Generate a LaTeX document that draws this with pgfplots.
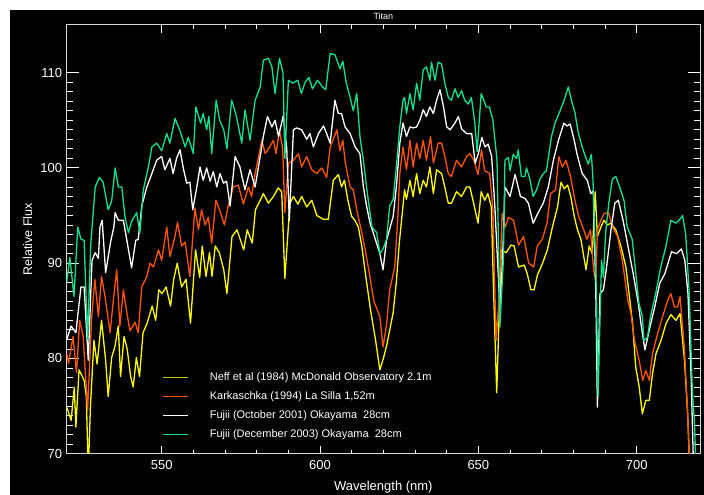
\documentclass[border=0pt]{standalone}
\usepackage{fontspec}
\setmainfont{Liberation Sans}
\usepackage{pgfplots}
\pgfplotsset{compat=1.18}
\definecolor{neffy}{RGB}{255,255,0}
\definecolor{neffleg}{RGB}{200,200,0}
\definecolor{org}{RGB}{255,85,0}
\definecolor{grn}{RGB}{20,225,140}
\definecolor{frm}{RGB}{215,215,215}
\pgfplotsset{legend image code/.code={\draw[#1] (0pt,0pt) -- (25pt,0pt);}}
\begin{document}
\begin{tikzpicture}[x=1pt,y=1pt]
\path[use as bounding box] (0,0) rectangle (704,495);
\fill[white] (0,0) rectangle (704,495);
\fill[black] (10,0) rectangle (704,485);
\begin{axis}[
  at={(66.7pt,41.3pt)}, anchor=south west,
  scale only axis, width=633.3pt, height=428.7pt,
  xmin=520, xmax=720, ymin=70, ymax=115,
  clip mode=individual,
  xtick={550,600,650,700}, minor x tick num=4,
  ytick={70,80,90,100,110}, minor y tick num=9,
  axis line style={frm, line width=1pt},
  tick style={white, line width=0.8pt},
  major tick length=12pt, minor tick length=6pt,
  xtick style={/pgfplots/major tick length=8pt,/pgfplots/minor tick length=4pt},
  /pgf/number format/assume math mode=true,
  ticklabel style={white, font=\fontsize{13}{15}\selectfont},
  xticklabel style={yshift=-3pt},
  yticklabel style={xshift=-1pt},
  xlabel={Wavelength (nm)},
  xlabel style={text=white, font=\fontsize{13}{15}\selectfont, at={(axis description cs:0.5,-0.078)}, anchor=center},
  ylabel={Relative Flux},
  ylabel style={text=white, font=\fontsize{12.5}{15}\selectfont, at={(axis description cs:-0.0615,0.5)}, anchor=center},
  legend cell align=left,
  legend style={at={(axis description cs:0.1505,0.2349)}, anchor=north west,
    draw=none, fill=none, font=\fontsize{11}{13}\selectfont,
    inner sep=0pt, row sep=8.5pt, column sep=21pt,
    nodes={inner sep=0pt, text height=8pt, text depth=2.5pt}},
  every axis plot/.append style={line width=1.3pt, line join=round},
]
\addlegendimage{empty legend}
\addlegendentry{}
\addlegendimage{color=neffleg, line width=1.6pt}
\addlegendentry{\textcolor{white}{Neff et al (1984) McDonald Observatory 2.1m}}
\addlegendimage{draw=org, line width=1.3pt}
\addlegendentry{\textcolor{white}{Karkaschka (1994) La Silla 1,52m}}
\addlegendimage{draw=white, line width=1.3pt}
\addlegendentry{\textcolor{white}{Fujii (October 2001) Okayama\ \ 28cm}}
\addlegendimage{draw=grn, line width=1.3pt}
\addlegendentry{\textcolor{white}{Fujii (December 2003) Okayama\ \ 28cm}}
\addplot[draw=neffy, forget plot] coordinates {
(520,74.9) (521.4,73.5) (522.4,77) (522.9,72.8) (523.9,78.8) (525.5,77.7) (526.2,76) (526.8,68) (527.5,75) (528.6,81.9) (529.6,79.4) (531,84) (532.3,79.8) (533.1,76) (534.2,80.1) (535.2,81.2) (536.3,83.4) (537,78.1) (538.1,82.3) (539.1,81) (540.2,78.1) (541,77) (542,80.1) (543,78.1) (544.1,82.7) (545.4,83.7) (547,85.5) (548.1,84) (549.1,87.2) (550.1,86.8) (551.4,87.5) (552.8,85.5) (553.8,88.3) (554.9,90) (556.3,87.5) (557.7,88.3) (559.1,83.7) (560.7,91.4) (562,88.5) (562.8,91.8) (564,88.6) (565.1,91.1) (565.9,88.6) (566.9,91.8) (568.2,91.1) (569.6,89.3) (570.6,86.8) (572.2,92.8) (573.8,93.5) (575.9,91.4) (577,93.5) (578.6,92.1) (579.6,95.6) (581.1,96.6) (582.1,97.3) (583.7,96.3) (585.3,97) (586.8,97.9) (587.9,97.5) (588.9,88.4) (590.5,96.3) (591.6,97) (593,96.2) (594.2,97) (595.8,95.9) (597.4,96.6) (599,95) (601.1,94.6) (602.6,94.6) (604.2,98.7) (605.8,99.3) (606.8,98) (607.7,98.7) (608.8,96.6) (610,94.9) (611,94.5) (612.1,93.8) (613.2,91.8) (614.5,88.5) (616,85) (617.5,82) (618.9,78.8) (620,80) (621,81.3) (623.1,84.8) (624.1,88) (625,92) (626.7,97.7) (627.3,96.7) (628.4,98.7) (629.4,97) (630.5,99.4) (631.5,97.3) (632.6,98.7) (633.6,98) (634.7,100.1) (635.8,97.3) (636.8,99.8) (638.4,99.4) (639.4,98) (640.5,96.3) (641.5,96.3) (643.1,97.5) (644.7,97) (646.3,98) (647.3,98) (648.3,96.6) (649.9,94.2) (650.9,97.5) (652,96.6) (653,97.3) (654.1,95.9) (654.8,87.2) (655.8,76.4) (657.2,91.4) (658.8,91.1) (660.3,91.9) (661.3,91.8) (662.7,89.6) (664.5,89.8) (665.5,88.8) (666.6,87.2) (667.6,87.2) (668.7,88.8) (670.3,90) (671.8,91.4) (673.4,93.8) (675,95.9) (676.1,98.5) (677.1,97.8) (678.2,98.2) (679.2,97) (680.3,94.9) (681.3,93.5) (682.4,92.5) (684,89.3) (685,91.8) (686,91) (686.9,97.5) (687.6,92.8) (688.7,93.8) (689.7,94.5) (690.8,94) (691.8,94.2) (693.4,93.5) (695,91.8) (696.6,89.6) (697.6,86.8) (698.7,83.7) (699.7,79.1) (700.8,77) (701.8,74.2) (702.9,75.6) (704,75.6) (705,78.4) (706.1,80.5) (707.7,81.9) (709.3,83.7) (710.8,84.6) (712.4,84) (713.7,84.7) (715.1,79.8) (716.1,74.2) (716.8,68)
};
\addplot[draw=org, forget plot] coordinates {
(520,80.5) (520.6,79.5) (522,82.3) (523.1,78.5) (524.1,84) (525.2,82.3) (526.6,74.6) (527.9,84.4) (528.9,88.3) (530,84.4) (531,88.6) (532.1,86.5) (533.7,82.7) (534.7,86) (535.8,89.3) (536.8,83.4) (537.9,87.2) (539,84.8) (540,82.9) (541.6,83.8) (542.6,82.7) (543.7,87.5) (545.3,88.6) (546.3,90) (547.4,89.6) (549,91.4) (550,90.3) (551.6,93.8) (552.6,90.7) (554.2,92.8) (555,94.3) (556.3,91.8) (557.4,92.2) (558.9,88.6) (560.5,95.8) (561.6,93.5) (562.6,95.6) (563.7,94) (564.7,94.8) (565.8,92.1) (567.1,96.6) (568.4,95.5) (569.8,94) (571,96) (572.6,98) (574.2,98.2) (575.8,96.2) (577.4,98) (578.4,97) (579.5,99.4) (580.5,101) (581.6,102.9) (582.7,101.5) (583.7,102) (585.3,102.9) (586.1,101.5) (587.2,104) (588.2,102) (588.9,95.3) (590,100.5) (591.6,100.8) (593.2,101.5) (594.2,100.1) (595.8,101.2) (597.4,99.8) (599,99.4) (600.5,100) (602.1,99) (603.2,102.2) (604.2,103) (605.3,104) (606.3,101.8) (607.2,102.9) (608,100.5) (609.5,98) (610.5,97.7) (611.6,95.6) (613.2,93.2) (614.5,91) (615.8,88.5) (617,86) (618.9,84.4) (619.9,81.2) (621,83.5) (622,87.2) (623.6,89.6) (624.6,95) (625.2,99.4) (626.2,102.2) (627.3,99.8) (628.4,102.9) (629.4,100.1) (630.5,102.6) (631.5,101) (632.6,102.9) (633.6,100.8) (634.9,103.3) (635.8,100.5) (637.3,102.6) (638.4,102.6) (639.4,101.2) (640.5,99.4) (641.5,99.1) (643.1,100.8) (644.7,100.1) (646.3,101.2) (647.3,101.5) (648.6,100.8) (649.9,99.3) (651,101.9) (652,99.7) (653.6,99.4) (654.6,95.6) (655.6,81.9) (656.5,86) (657.5,95.2) (658.5,93.8) (659.5,94.8) (661.1,94.5) (662.7,91.9) (664.3,92.8) (665.9,90) (667.5,89.6) (668.6,91.8) (670.2,92.5) (671.7,94.2) (672.8,97.3) (674.4,97.7) (675.4,101.2) (676.5,100.1) (677.7,100.8) (679.1,99.1) (680.5,96.6) (681.7,94.9) (683.3,93.5) (684.3,92.5) (685.4,93.5) (686.4,89.3) (687.1,88) (687.6,93.5) (688.7,94.5) (689.7,95.2) (691.1,95.3) (692.4,93.8) (694,92.8) (695.6,90) (697.2,86.1) (698.2,84.7) (699.3,81.9) (700.8,79.8) (701.9,77.7) (702.9,78.7) (704,77.7) (705,80.5) (706.6,82.6) (708.2,84.4) (709.8,86.1) (710.8,86.8) (711.9,85.4) (712.9,85.4) (713.7,86.5) (715.1,80.9) (716.1,74.2) (716.8,68)
};
\addplot[draw=white, forget plot] coordinates {
(520,82) (521.4,83.4) (522.9,82.7) (524.5,87.5) (525.5,87.5) (526.8,79.8) (528,90.3) (529,91.1) (530,90.5) (530.5,93.8) (531.2,94.5) (532.3,89) (533.9,92.3) (534.9,93.8) (535.3,95.3) (536.3,94.5) (537.9,94.5) (539,92.4) (540.5,89.5) (541.8,92.4) (542.6,92.5) (543.7,96) (545.3,98) (546.9,99.4) (548.4,100.8) (550,101.2) (551,99.8) (552.6,101) (553.6,99.4) (554.7,101) (555.8,101.9) (556.8,100) (557.9,98.4) (558.9,98.5) (559.8,95.6) (561.1,98) (562.1,100.1) (563.1,98.7) (564.2,100) (565.3,98.6) (566.3,99.6) (567.4,98) (568.4,99.4) (569.5,98.4) (570.5,98.6) (571.6,96) (573.2,101.2) (574.7,100.1) (576.3,97.7) (577.9,99.8) (579.5,98) (581.1,101.2) (582.1,103.3) (583.4,105.4) (584.8,104.3) (585.8,105) (586.9,103.3) (588.4,105.5) (589.5,102) (590.3,94.5) (591.6,104) (592.6,104.2) (594.2,104) (595.8,103) (596.8,103.6) (597.9,102.2) (599.5,103.6) (601.1,104.4) (602.1,103.6) (603.2,102.6) (604.7,107.1) (605.8,105.7) (606.8,105.7) (607.9,104.3) (609.5,103.6) (611.1,102.2) (612.6,101.5) (613.7,98) (614.7,96) (615.8,94.2) (616.8,93.2) (618.9,91) (619.9,89.3) (621,92.4) (623.1,94.9) (624.1,98) (625.2,102.6) (626.2,104.7) (627.3,103.3) (628.4,104.3) (629.4,104.2) (630.5,104.3) (631.5,105) (632.6,106.1) (633.6,105.4) (634.7,106.4) (635.8,105.7) (636.8,107.1) (637.9,108.2) (639,106.4) (640,104.3) (641.1,104) (642.6,104.7) (643.7,105.4) (644.7,104.1) (646.3,103.6) (647.9,103.6) (649,100.5) (650,101.5) (651.1,103.2) (652.1,102.2) (653.1,102.5) (654.2,101.2) (655.2,96) (656.8,85.4) (657.6,90) (658.4,98) (660,97) (661.6,99.3) (663.3,97) (664.7,96.8) (665.8,96.3) (667.3,94.2) (668.9,95.3) (670.5,96.3) (672.1,98) (673.7,100.8) (675.3,102.9) (677,104.7) (678,104.4) (679,104.6) (680.2,103) (681.2,101.4) (682.8,99.4) (684.4,98.7) (685.5,97.3) (686.3,97.6) (687.1,86.8) (687.6,74.9) (688.4,86.8) (689.5,87.2) (690.5,89.6) (692,93.8) (693.1,96.3) (694.2,96.6) (695.7,94.5) (697.3,91.7) (698.9,88.9) (700.5,85.8) (701.5,83.3) (702.6,80.9) (704.2,83.3) (705.7,85.4) (707.3,87.9) (708.9,88.9) (711,91.2) (712.6,91) (714.1,91.5) (715.2,90.3) (716.2,86.8) (717.2,78) (718,68)
};
\addplot[draw=grn, forget plot] coordinates {
(520,88) (521,90.6) (522.3,86.5) (523.5,93.8) (524.5,92.5) (525.5,92.4) (526.6,82) (527.6,92) (529,98) (530.3,99) (531.5,98.5) (533.1,95.6) (534.2,96.5) (535.3,100) (536.3,98) (537.4,98) (538.4,94.9) (539.5,93.2) (540.5,94.4) (542.1,95.3) (543.1,93.2) (544.2,97.7) (545.8,100.1) (546.9,102.2) (548.4,102.6) (550,101.8) (551.6,103.6) (552.6,102.6) (554.2,105.2) (555.8,103.9) (557.4,102.2) (558.4,103.2) (560,101.5) (560.8,106.4) (562.3,104.7) (563.1,105.7) (564.2,104) (564.9,105.4) (565.8,101.5) (567.2,107.1) (568.3,105) (569.6,104) (570.6,102) (572.1,107.1) (573.4,105.7) (575.3,102.6) (576.3,106.1) (577.9,102.9) (579.5,107.1) (581.1,108.5) (582.1,111.3) (583.7,111.5) (584.8,110.6) (585.8,107.8) (587.2,111.5) (588.3,110) (588.9,101) (590,109.2) (591.4,108.9) (593,109.2) (594.1,107.8) (595.3,109) (596.5,109.5) (597.6,108.3) (599.2,109.2) (600.8,108.5) (601.8,108.2) (603.2,112) (604.7,111.9) (606.3,110.4) (607.2,111.2) (608.3,108.9) (609.5,107.4) (610.5,106) (611.6,107.8) (612.6,103.3) (613.7,100.8) (614.8,97.7) (616.4,93.8) (617.9,93.2) (618.9,91) (619.9,91.5) (621,92.5) (622,96) (623.1,96.7) (624.1,100.1) (625.2,104.3) (626.2,107.1) (626.7,107.4) (627.3,105.7) (628.4,107.8) (629.4,106.1) (630.5,108.9) (631.5,107.1) (632.6,110.3) (633.6,110.6) (634.7,109.2) (635.2,111.1) (636.3,109.2) (637.3,111.1) (638.4,110.9) (639.4,108.9) (640.5,107.4) (641.5,107.1) (642.6,108.3) (643.6,107.4) (644.7,108.1) (645.7,107.1) (646.8,106.7) (647.8,107.4) (648.9,104.7) (649.6,101.7) (650.9,107.8) (652.5,106.4) (653.5,106.4) (654.6,105) (655.9,100.8) (656.8,83.3) (657.9,90.3) (658.4,100.8) (659.5,101.1) (660,99.7) (661,101.4) (662.1,101) (662.6,101.9) (663.6,99.1) (664.7,99.1) (665.2,100) (666.3,98.8) (667.3,97) (668.4,97.7) (669.4,98.8) (670.5,99.4) (671.5,99.7) (673.1,103.3) (674.2,104.7) (675.7,105.9) (677.1,107.1) (678.4,108.5) (679.4,107.1) (680.5,105.8) (681.5,103.8) (682.6,102.4) (683.6,101.4) (684.7,100.4) (685.7,101.4) (686.2,98.8) (687.3,86.8) (687.8,76) (688.9,90.3) (689.5,88.5) (690.2,93.2) (691.2,96.3) (692.3,98.8) (693.4,99.1) (694.4,98.2) (696,96.6) (697,93.8) (698.6,92.5) (699.7,89) (700.7,85.8) (701.8,84.4) (702.3,81.9) (703.4,82.2) (704.4,84.4) (706,86.8) (707.6,89.6) (709.2,91.7) (710.8,94.5) (712.4,94.2) (713.4,94.5) (714.5,95) (715.5,93) (716.6,86.8) (717.6,76.4) (718.2,73.6) (718.8,68)
};
\node[text=white, font=\fontsize{9}{11}\selectfont] at (axis description cs:0.5,1.0195) {Titan};
\end{axis}
\end{tikzpicture}
\end{document}
